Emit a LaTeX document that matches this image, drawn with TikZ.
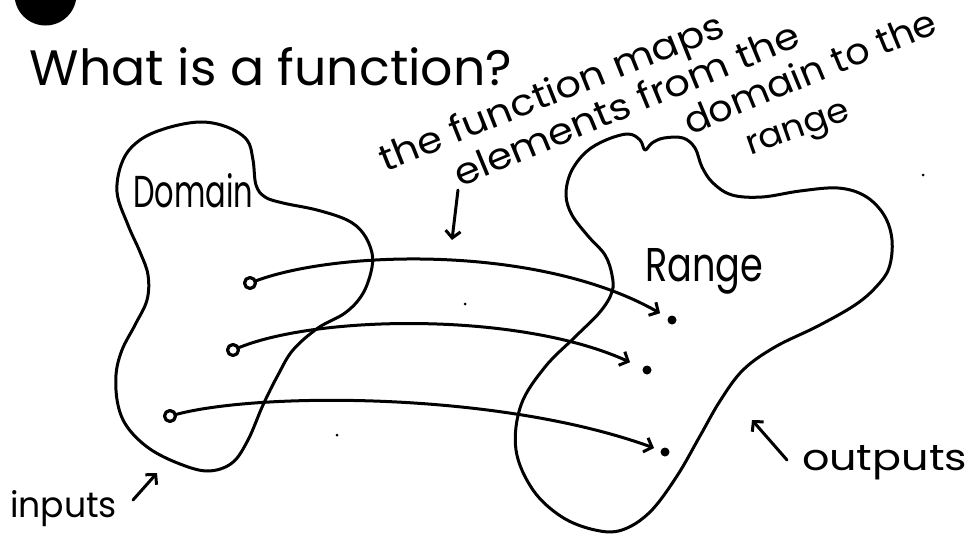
\documentclass[tikz,border=0pt]{standalone}
\usepackage{fontspec}
\setmainfont{Poppins}
\usetikzlibrary{arrows.meta}
\begin{document}
\begin{tikzpicture}[x=1pt,y=-1pt, line cap=round, line join=round,
  pen/.style={line width=3pt},
  arr/.style={pen,-{Straight Barb[length=7pt,width=15pt,line width=3pt]}},
  hand/.style={inner sep=0pt, outer sep=0pt},
  startpt/.style={circle, draw, line width=3.2pt, minimum size=11pt, inner sep=0pt},
  endpt/.style={circle, fill, minimum size=9pt, inner sep=0pt},
  speck/.style={circle, fill, minimum size=3pt, inner sep=0pt}]
\useasboundingbox (0,0) rectangle (970,538);
\clip (0,0) rectangle (970,538);
\fill[white] (0,0) rectangle (970,538);
% black blob
\fill (45.5,-5.5) circle[radius=31pt];
% title
\node[hand, anchor=base west] (title) at (30,85) {\resizebox{482pt}{38pt}{What is a function?}};
% annotation
\node[hand, anchor=base west, rotate=21.8] (l1) at (385,172) {\resizebox{368pt}{28pt}{the function maps}};
\node[hand, anchor=base west, rotate=22.5] (l2) at (460,187) {\resizebox{371pt}{28pt}{elements from the}};
\node[hand, anchor=base west, rotate=22.4] (l3) at (690,135) {\resizebox{270pt}{28pt}{domain to the}};
\node[hand, anchor=base west, rotate=19.4] (l4) at (750,155) {\resizebox{108pt}{19pt}{range}};
\coordinate (na0) at (458,190);
\coordinate (na1) at (452,240);
\draw[arr] (na0) -- (na1);
% domain blob
\draw[pen] plot[smooth cycle, tension=0.6] coordinates {
 (117,192) (123,160) (140,140) (167,128) (200,122) (227,127) (247,140) (253,160)
 (256,185) (265,197) (283,203) (317,210) (347,220) (363,233) (372,253) (371,272)
 (362,295) (345,313) (318,328) (293,350) (278,375) (263,405) (248,440) (232,463)
 (208,471) (180,464) (150,449) (128,428) (118,405) (116,375) (122,350) (135,325)
 (147,300) (148,275) (140,252) (128,225)};
\node[hand, anchor=base west] (dom) at (133,207) {\resizebox{120pt}{34pt}{Domain}};
% range blob
\draw[pen] plot[smooth cycle, tension=0.6] coordinates {
 (612,275) (605,255) (588,236) (572,215) (566,195) (571,172) (586,152) (606,140)
 (628,134) (640,140) (645,150) (652,143) (664,138) (683,138) (695,148) (702,167)
 (713,183) (732,195) (762,197) (800,191) (838,188) (865,196) (884,215) (892,240)
 (889,268) (876,287) (855,305) (818,326) (775,347) (743,370) (720,401) (700,436)
 (677,476) (650,512) (622,530) (595,530) (562,517) (533,490) (516,450) (521,405)
 (545,367) (575,337) (600,312) (612,292)};
\node[hand, anchor=base west] (rng) at (645,281) {\resizebox{118pt}{33pt}{Range}};
% mapping arrows
\node[startpt] (d1) at (250,283) {};
\node[startpt] (d2) at (233,350) {};
\node[startpt] (d3) at (170,416) {};
\node[endpt] (r1) at (672,320) {};
\node[endpt] (r2) at (647,370) {};
\node[endpt] (r3) at (665,452) {};
\draw[arr, shorten >=9pt] (d1) .. controls (340,250) and (540,245) .. (r1);
\draw[arr, shorten >=14pt] (d2) .. controls (320,315) and (520,312) .. (r2);
\draw[arr, shorten >=7pt] (d3) .. controls (262,392) and (500,392) .. (r3);
% inputs / outputs
\node[hand, anchor=base west] (inp) at (10,517) {\resizebox{107pt}{27pt}{inputs}};
\coordinate (ia0) at (133,500);
\coordinate (ia1) at (157,473);
\draw[arr] (ia0) -- (ia1);
\node[hand, anchor=base west] (outp) at (802,470) {\resizebox{165pt}{25pt}{outputs}};
\coordinate (oa0) at (787,460);
\coordinate (oa1) at (752,420);
\draw[arr] (oa0) -- (oa1);
% specks
\node[speck] (s1) at (923,175) {};
\node[speck] (s2) at (465,304) {};
\node[speck] (s3) at (337,435) {};
\end{tikzpicture}
\end{document}
